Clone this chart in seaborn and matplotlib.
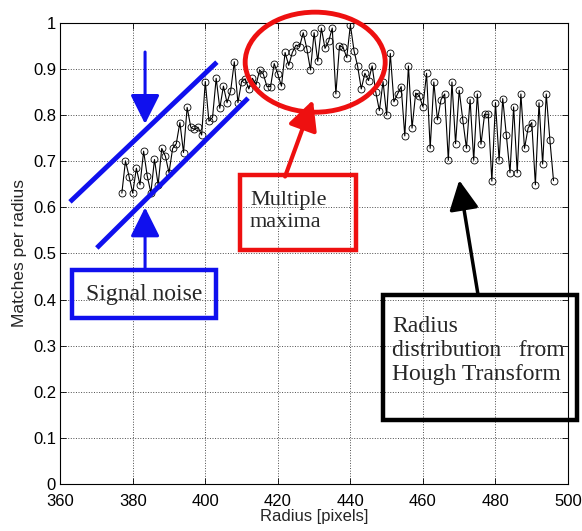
import numpy as np
import pandas as pd
import matplotlib
matplotlib.use("Agg")
import matplotlib.pyplot as plt
import seaborn as sns
from matplotlib.patches import Rectangle, Ellipse
from matplotlib.ticker import FuncFormatter

# radius values (pixels) and matches per radius
radius = list(range(377, 497))
matches = [
    0.631, 0.701, 0.667, 0.631, 0.685, 0.649, 0.722, 0.668, 0.632, 0.704,
    0.649, 0.728, 0.711, 0.675, 0.728, 0.738, 0.784, 0.719, 0.817, 0.774,
    0.769, 0.774, 0.757, 0.873, 0.787, 0.795, 0.880, 0.815, 0.863, 0.827,
    0.853, 0.916, 0.827, 0.873, 0.879, 0.857, 0.880, 0.866, 0.898, 0.889,
    0.862, 0.862, 0.912, 0.889, 0.863, 0.936, 0.908, 0.936, 0.952, 0.949,
    0.979, 0.944, 0.898, 0.979, 0.917, 0.989, 0.945, 0.960, 0.989, 0.846,
    0.951, 0.947, 0.925, 0.996, 0.940, 0.906, 0.857, 0.891, 0.875, 0.907,
    0.850, 0.810, 0.873, 0.800, 0.934, 0.829, 0.846, 0.862, 0.755, 0.907,
    0.772, 0.848, 0.842, 0.818, 0.891, 0.728, 0.872, 0.790, 0.834, 0.846,
    0.702, 0.872, 0.738, 0.854, 0.789, 0.728, 0.834, 0.702, 0.846, 0.737,
    0.802, 0.802, 0.657, 0.827, 0.702, 0.836, 0.756, 0.675, 0.818, 0.675,
    0.846, 0.728, 0.772, 0.784, 0.649, 0.827, 0.694, 0.846, 0.746, 0.658,
]
xticks = [360, 380, 400, 420, 440, 460, 480, 500]
yticks = [0, 0.1, 0.2, 0.3, 0.4, 0.5, 0.6, 0.7, 0.8, 0.9, 1]

df = pd.DataFrame({"Radius [pixels]": radius, "Matches per radius": matches})

sns.set_style("ticks")
plt.rcParams["font.family"] = ["Liberation Sans", "DejaVu Sans"]

fig = plt.figure(figsize=(5.82, 5.31), dpi=100)
ax = fig.add_axes([0.1034, 0.0885, 0.976 - 0.1034, 0.9567 - 0.0885])

sns.lineplot(data=df, x="Radius [pixels]", y="Matches per radius", ax=ax,
             color="k", lw=0.8, marker="o", markersize=5,
             markerfacecolor="none", markeredgecolor="k", markeredgewidth=0.6)

ax.set_xlim(360, 500)
ax.set_ylim(0, 1)
ax.set_xticks(xticks)
ax.set_yticks(yticks)
ax.yaxis.set_major_formatter(FuncFormatter(lambda v, p: "%g" % v))
ax.tick_params(direction="in", top=True, right=True, length=4, width=0.6,
               labelsize=12, colors="k")
ax.tick_params(axis="x", pad=7)
ax.tick_params(axis="y", pad=3)
ax.grid(True, linestyle=":", color="k", lw=0.7, alpha=0.7)
for s in ax.spines.values():
    s.set_linewidth(0.8)
    s.set_color("k")
ax.set_xlabel("Radius [pixels]", fontsize=12, labelpad=0)
ax.set_ylabel("Matches per radius", fontsize=12.5, labelpad=4)

serif = ["Liberation Serif", "DejaVu Serif"]

# signal noise band
ax.plot([362.7, 403.2], [0.612, 0.915], color="#1010ee", lw=3.5, solid_capstyle="butt")
ax.plot([370.1, 411.8], [0.512, 0.837], color="#1010ee", lw=3.5, solid_capstyle="butt")
blue_arrow = dict(arrowstyle="-|>,head_width=0.45,head_length=0.9", color="#1010ee",
                  lw=2.2, mutation_scale=20, shrinkA=0, shrinkB=0)
ax.annotate("", xy=(383.4, 0.781), xytext=(383.4, 0.937), arrowprops=blue_arrow)
ax.annotate("", xy=(383.4, 0.600), xytext=(383.4, 0.469), arrowprops=blue_arrow)
ax.add_patch(Rectangle((363.3, 0.360), 39.7, 0.104, fill=False, ec="#1010ee", lw=3.2,
                       zorder=5, clip_on=False))
ax.text(383.2, 0.410, "Signal noise", family=serif, fontsize=17, ha="center",
        va="center", zorder=6)

# multiple maxima
ax.add_patch(Ellipse((430.3, 0.915), 38.6, 0.217, fill=False, ec="#ee1010", lw=3.5,
                     zorder=5, clip_on=False))
red_arrow = dict(arrowstyle="-|>,head_width=0.45,head_length=0.9", color="#ee1010",
                 lw=3, mutation_scale=20, shrinkA=0, shrinkB=0)
ax.annotate("", xy=(429.7, 0.833), xytext=(422.0, 0.667), arrowprops=red_arrow)
ax.add_patch(Rectangle((409.6, 0.508), 32.0, 0.162, fill=False, ec="#ee1010", lw=3.2,
                       zorder=5, clip_on=False))
ax.text(412.3, 0.591, "Multiple\nmaxima", family=serif, fontsize=16, ha="left",
        va="center", linespacing=1.25, zorder=6)

# radius distribution
black_arrow = dict(arrowstyle="-|>,head_width=0.45,head_length=0.9", color="k",
                   lw=2.5, mutation_scale=20, shrinkA=0, shrinkB=0)
ax.annotate("", xy=(470.0, 0.659), xytext=(475.2, 0.410), arrowprops=black_arrow)
ax.add_patch(Rectangle((449.0, 0.139), 53.5, 0.271, fill=False, ec="k", lw=3.2,
                       zorder=5, clip_on=False))
ax.text(451.5, 0.290, "Radius\ndistribution   from\nHough Transform", family=serif,
        fontsize=17, ha="left", va="center", linespacing=1.2, zorder=6)

fig.savefig("out.png", dpi=100)
